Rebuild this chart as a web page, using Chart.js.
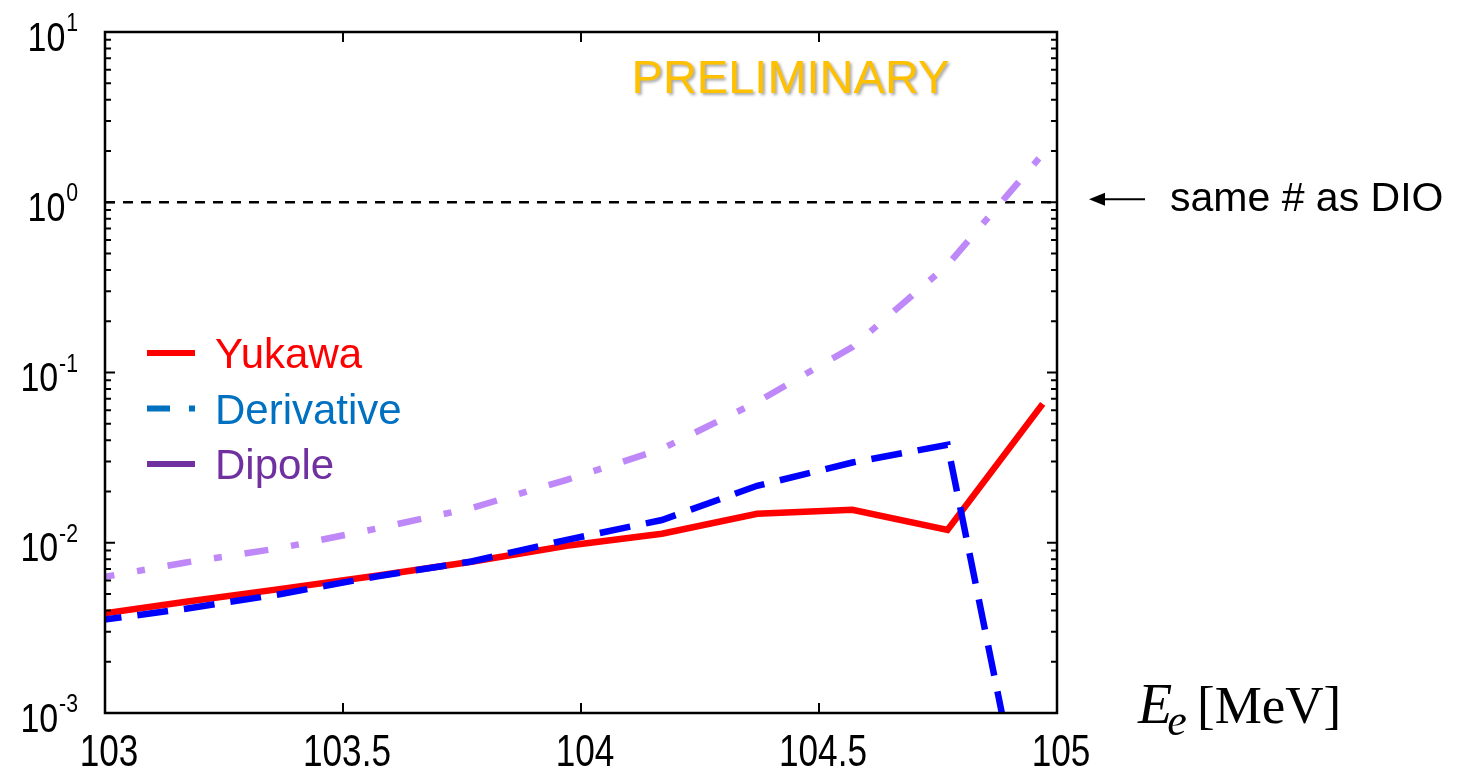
<!DOCTYPE html>
<html>
<head>
<meta charset="utf-8">
<title>Signal / DIO ratio vs electron energy</title>
<script src="https://cdn.jsdelivr.net/npm/chart.js@4.4.1/dist/chart.umd.min.js"></script>
<style>
  html, body { margin: 0; padding: 0; background: #fff; }
  canvas { display: block; }
</style>
</head>
<body>
<canvas id="ratioChart" width="1472" height="771"></canvas>
<script>
// electron energy points, MeV (last one is the conversion endpoint)
const energies = [102.97, 103.17, 103.37, 103.57, 103.77, 103.97, 104.17, 104.37, 104.57, 104.77, 104.97];

// ratio for each form factor model
const yukawa     = [0.00375, 0.0045, 0.00536, 0.0064, 0.00773, 0.0096, 0.0113, 0.0148, 0.0156, 0.0119, 0.0654];
const derivative = [0.00345, 0.0041, 0.0050, 0.00634, 0.00776, 0.0104, 0.0136, 0.0216, 0.0296, 0.0376, 0.000065];
const dipole     = [0.0061, 0.00766, 0.00933, 0.0121, 0.0160, 0.0234, 0.0356, 0.0671, 0.141, 0.428, 1.92];

// "same # as DIO" level
const dioEnergies = [103, 105];
const dioLevel = [1, 1];

const xTicks = [103, 103.5, 104, 104.5, 105];
const xTickLabels = ['103', '103.5', '104', '104.5', '105'];
const yDecades = [-3, -2, -1, 0, 1];

const legendLabels = ['Yukawa', 'Derivative', 'Dipole'];
const legendColors = ['#ff0000', '#0070c0', '#7030a0'];
const legendDashes = [[], [23, 19, 6, 60], []];

const toPoints = (xs, ys) => xs.map((x, i) => ({ x: x, y: ys[i] }));

const SANS = '"Liberation Sans", Arial, sans-serif';
const SERIF = '"Liberation Serif", "Times New Roman", serif';
const NARROW = 0.8; // horizontal squeeze for the axis numbers

const decorations = {
    id: 'decorations',
    afterDatasetsDraw(chart) {
        const { ctx, chartArea: a, scales: { x, y } } = chart;
        ctx.save();

        // frame
        ctx.strokeStyle = '#000';
        ctx.lineWidth = 2.5;
        ctx.strokeRect(a.left, a.top, a.right - a.left, a.bottom - a.top);

        // inward ticks
        ctx.lineWidth = 2;
        ctx.beginPath();
        xTicks.slice(1, -1).forEach(v => {
            const px = x.getPixelForValue(v);
            ctx.moveTo(px, a.bottom); ctx.lineTo(px, a.bottom - 10);
            ctx.moveTo(px, a.top); ctx.lineTo(px, a.top + 10);
        });
        yDecades.forEach(d => {
            for (let k = 1; k <= 9; k++) {
                const v = k * Math.pow(10, d);
                if (v > y.max * 1.0001) break;
                const py = y.getPixelForValue(v);
                const len = k === 1 ? 10 : 6;
                ctx.moveTo(a.left, py); ctx.lineTo(a.left + len, py);
                ctx.moveTo(a.right, py); ctx.lineTo(a.right - len, py);
            }
        });
        ctx.stroke();

        // x labels
        ctx.fillStyle = '#000';
        ctx.textAlign = 'center';
        ctx.textBaseline = 'alphabetic';
        ctx.font = '44px ' + SANS;
        xTicks.forEach((v, i) => {
            ctx.save();
            ctx.translate(x.getPixelForValue(v) + 4, a.bottom + 53);
            ctx.scale(NARROW, 1);
            ctx.fillText(xTickLabels[i], 0, 0);
            ctx.restore();
        });

        // y labels as 10^n
        ctx.textAlign = 'right';
        yDecades.forEach(d => {
            const py = y.getPixelForValue(Math.pow(10, d));
            ctx.save();
            ctx.translate(a.left - 27, py);
            ctx.scale(0.85, 1);
            ctx.font = '25px ' + SANS;
            const exp = String(d);
            const ew = ctx.measureText(exp).width;
            ctx.fillText(exp, 0, -1);
            ctx.font = '40px ' + SANS;
            ctx.fillText('10', -ew - 1, 18.5);
            ctx.restore();
        });

        // legend
        ctx.textAlign = 'left';
        legendLabels.forEach((label, i) => {
            const ly = a.top + 321 + i * 55.5;
            ctx.strokeStyle = legendColors[i];
            ctx.lineWidth = 6;
            ctx.setLineDash(legendDashes[i]);
            ctx.beginPath();
            ctx.moveTo(a.left + 42, ly);
            ctx.lineTo(a.left + 90, ly);
            ctx.stroke();
            ctx.setLineDash([]);
            ctx.fillStyle = legendColors[i];
            ctx.font = '42px ' + SANS;
            ctx.fillText(label, a.left + 110, ly + 15);
        });

        // PRELIMINARY stamp
        ctx.save();
        ctx.font = '47px ' + SANS;
        ctx.textAlign = 'center';
        ctx.fillStyle = '#ffc000';
        ctx.shadowColor = 'rgba(0,0,0,0.35)';
        ctx.shadowOffsetX = 2;
        ctx.shadowOffsetY = 2;
        ctx.shadowBlur = 3;
        ctx.fillText('PRELIMINARY', a.left + (a.right - a.left) * 0.72, a.top + 61);
        ctx.restore();

        // arrow and note at the DIO level
        const yDio = y.getPixelForValue(1) - 3;
        const tipX = a.right + 32;
        ctx.strokeStyle = '#000';
        ctx.fillStyle = '#000';
        ctx.lineWidth = 2;
        ctx.beginPath();
        ctx.moveTo(tipX + 10, yDio);
        ctx.lineTo(tipX + 56, yDio);
        ctx.stroke();
        ctx.beginPath();
        ctx.moveTo(tipX, yDio);
        ctx.lineTo(tipX + 16, yDio - 6.5);
        ctx.lineTo(tipX + 16, yDio + 6.5);
        ctx.closePath();
        ctx.fill();
        ctx.font = '41px ' + SANS;
        ctx.textBaseline = 'middle';
        ctx.fillText('same # as DIO', a.right + 113, yDio);

        // axis title E_e [MeV]
        ctx.textBaseline = 'alphabetic';
        const tx = a.right + 81;
        const ty = a.bottom + 10;
        ctx.font = 'italic 56px ' + SERIF;
        ctx.fillText('E', tx, ty);
        const eW = ctx.measureText('E').width;
        ctx.font = 'italic 44px ' + SERIF;
        ctx.fillText('e', tx + eW - 5, ty + 12);
        ctx.font = '53px ' + SERIF;
        ctx.fillText('[MeV]', tx + 59, ty);

        ctx.restore();
    }
};

new Chart(document.getElementById('ratioChart'), {
    type: 'line',
    data: {
        datasets: [
            {
                label: 'same # as DIO',
                data: toPoints(dioEnergies, dioLevel),
                borderColor: '#000',
                borderWidth: 2.5,
                borderDash: [10, 8],
                pointRadius: 0,
                clip: 0,
                order: 4
            },
            {
                label: 'Dipole',
                data: toPoints(energies, dipole),
                borderColor: '#bf88f8',
                borderWidth: 6.5,
                borderDash: [24, 23, 8, 23],
                pointRadius: 0,
                clip: 0,
                order: 3
            },
            {
                label: 'Yukawa',
                data: toPoints(energies, yukawa),
                borderColor: '#ff0000',
                borderWidth: 6.5,
                pointRadius: 0,
                clip: 0,
                order: 2
            },
            {
                label: 'Derivative',
                data: toPoints(energies, derivative),
                borderColor: '#0000ff',
                borderWidth: 6.5,
                borderDash: [31, 16],
                pointRadius: 0,
                clip: 0,
                order: 1
            }
        ]
    },
    options: {
        responsive: false,
        animation: false,
        layout: { padding: { left: 0, top: 32, right: 415, bottom: 0 } },
        plugins: { legend: { display: false }, tooltip: { enabled: false } },
        scales: {
            x: {
                type: 'linear',
                min: 103,
                max: 105,
                afterBuildTicks: s => { s.ticks = xTicks.map(v => ({ value: v })); },
                afterFit: s => { s.height = 58; },
                grid: { display: false, drawTicks: false },
                border: { display: false },
                ticks: { display: false }
            },
            y: {
                type: 'logarithmic',
                min: 1e-3,
                max: 10,
                afterFit: s => { s.width = 105; },
                grid: { display: false, drawTicks: false },
                border: { display: false },
                ticks: { display: false }
            }
        }
    },
    plugins: [decorations]
});
</script>
</body>
</html>
